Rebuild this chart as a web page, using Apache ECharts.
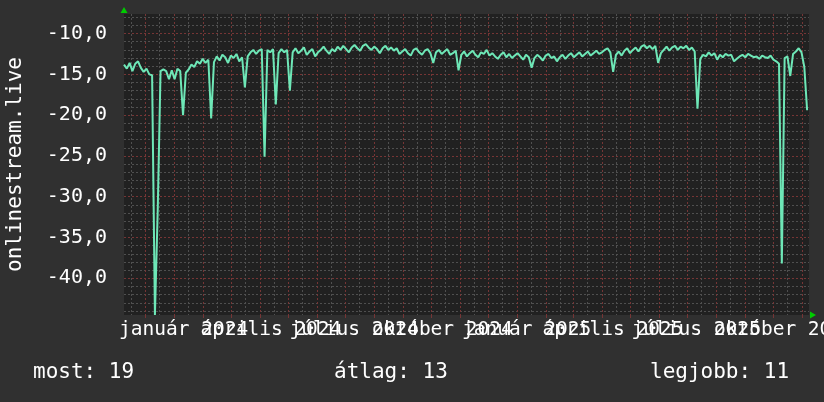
<!DOCTYPE html>
<html><head><meta charset="utf-8">
<script src="https://cdn.jsdelivr.net/npm/echarts@6/dist/echarts.min.js"></script>
<style>html,body{margin:0;padding:0;background:#303030;}#c{width:824px;height:402px;}</style>
</head><body><div id="c"></div>
<script>
// ---- data ----
const startDate = '2023-11-08';
const endDate = '2025-11-08';
const stepDays = 3;
const values = [
  -13.8, -14.3, -13.6, -14.6, -13.7, -13.4, -14.2, -14.7, -14.3, -15.0,
  -15.1, -44.5, -31.6, -14.6, -14.4, -14.6, -15.6, -14.5, -15.6, -14.3,
  -14.6, -20.0, -14.8, -14.4, -13.8, -14.1, -13.4, -13.7, -13.1, -13.6,
  -13.2, -20.4, -13.5, -12.8, -13.3, -12.6, -12.9, -13.6, -12.7, -13.0,
  -12.5, -13.4, -12.9, -16.6, -12.8, -12.3, -12.0, -12.5, -12.1, -11.9,
  -25.1, -12.0, -12.3, -11.9, -18.7, -12.4, -11.9, -12.3, -12.0, -17.0,
  -12.3, -11.8, -12.4, -12.1, -11.7, -12.6, -12.2, -11.9, -12.8, -12.3,
  -12.0, -11.6, -12.1, -12.5, -11.9, -12.2, -11.6, -12.0, -11.5, -11.9,
  -12.3, -11.7, -11.4, -11.8, -12.1, -11.5, -11.3, -11.7, -12.0, -11.6,
  -11.9, -12.4, -11.8, -11.5, -12.0, -11.7, -12.1, -11.8, -12.5, -12.2,
  -11.9, -12.4, -12.7, -12.0, -11.8, -12.3, -12.6, -12.1, -11.9, -12.4,
  -13.6, -12.3, -12.0, -12.5, -12.2, -11.9, -12.6, -12.4, -12.1, -14.5,
  -12.6, -12.2, -12.8, -12.4, -12.1, -12.6, -12.9, -12.3, -12.5, -12.0,
  -12.7, -12.4, -12.8, -13.1, -12.6, -12.3, -12.9, -12.5, -13.0, -12.7,
  -12.4, -12.8, -13.2, -12.6, -12.9, -14.2, -13.0, -12.6, -12.9, -13.3,
  -12.7, -12.5, -13.0, -12.8, -13.4, -12.9, -12.6, -13.1, -12.7, -12.4,
  -12.9, -12.6, -12.3, -12.8, -12.5, -12.2, -12.7, -12.4, -12.1, -12.5,
  -12.3, -12.0, -11.8, -12.3, -14.7, -12.6, -12.2, -12.7, -12.1, -11.8,
  -12.4, -12.0, -11.7, -12.2, -11.6, -11.4, -11.8, -11.5, -11.9, -11.5,
  -13.6, -12.4, -12.0, -11.6, -12.1, -11.7, -11.5, -12.0, -11.6, -11.8,
  -11.5, -12.0, -11.7, -12.2, -19.2, -13.1, -12.6, -12.8, -12.3, -12.7,
  -12.4, -13.2, -12.6, -12.9, -12.5, -12.7, -12.6, -13.4, -13.1, -12.8,
  -12.6, -12.9, -12.5, -12.7, -12.9, -12.8, -13.1, -12.7, -12.9, -13.0,
  -12.7, -13.2, -13.4, -13.7, -38.2, -13.0, -12.8, -15.2, -12.5, -12.2,
  -11.8, -12.3, -14.1, -19.4
];
const yMin = -44.5;
const yMax = -7.6;
const yMajorTicks = [-40, -35, -30, -25, -20, -15, -10];
const monthNames = ['január', 'február', 'március', 'április', 'május', 'június',
  'július', 'augusztus', 'szeptember', 'október', 'november', 'december'];
const labelDatesA = ['2024-01-01', '2024-07-01', '2025-01-01', '2025-07-01'];
const labelDatesB = ['2024-04-01', '2024-10-01', '2025-04-01', '2025-10-01'];
const yAxisTitle = 'onlinestream.live';
const legendTexts = ['most: 19', 'átlag: 13', 'legjobb: 11'];

// ---- layout / style ----
const legendLeft = [33, 334, 650];
const FONT = "'DejaVu Sans Mono', monospace";
const DAY = 86400000;
const toTime = s => Date.parse(s + 'T00:00:00Z');
const t0 = toTime(startDate);
const t1 = toTime(endDate);
const data = values.map((v, i) => [t0 + i * stepDays * DAY, v]);

const monthStarts = [];
const midMonths = [];
{
  const d0 = new Date(t0);
  let y = d0.getUTCFullYear(), m = d0.getUTCMonth();
  for (let k = 0; k < 40; k++) {
    const a = Date.UTC(y, m, 1), b = Date.UTC(y, m, 16);
    if (a > t0 && a < t1) monthStarts.push(a);
    if (b > t0 && b < t1) midMonths.push(b);
    m++; if (m > 11) { m = 0; y++; }
  }
}
const yMinor = [];
for (let v = Math.ceil(yMin); v <= Math.floor(yMax); v++) if (v % 5 !== 0) yMinor.push(v);

const RED = '#763535';
const GREY = '#4f4f4f';
const dateLabel = (val) => { const d = new Date(val); return monthNames[d.getUTCMonth()] + ' ' + d.getUTCFullYear(); };
const xLabelStyle = (vals, padLeft) => ({
  customValues: vals.map(toTime), hideOverlap: false, showMinLabel: true, showMaxLabel: true,
  color: '#ffffff', fontFamily: FONT, fontSize: 19.5, margin: 5, padding: [0, 0, 0, padLeft],
  formatter: dateLabel
});
const chart = echarts.init(document.getElementById('c'), null, {renderer: 'canvas'});
chart.setOption({
  animation: false,
  backgroundColor: '#303030',
  grid: {left: 124, right: 15, top: 14, bottom: 87, show: true, backgroundColor: '#212121',
    borderWidth: 0, containLabel: false, outerBoundsMode: 'none'},
  xAxis: [{
    type: 'value', min: t0, max: t1,
    axisLine: {show: false},
    axisTick: {show: true, customValues: monthStarts, length: 3, lineStyle: {color: RED}},
    splitLine: {show: true, lineStyle: {color: RED, type: [2, 2], width: 1}},
    axisLabel: xLabelStyle(labelDatesA, 18)
  }, {
    type: 'value', min: t0, max: t1, position: 'bottom',
    axisLine: {show: true, symbol: ['none', 'triangle'], symbolSize: [7, 6], symbolOffset: [0, 4], lineStyle: {color: '#00cc00', opacity: 0}},
    axisTick: {show: false, customValues: midMonths},
    axisLabel: xLabelStyle(labelDatesB, 22),
    splitLine: {show: true, lineStyle: {color: GREY, type: [2, 2], width: 1}}
  }],
  yAxis: [{
    type: 'value', min: yMin, max: yMax, position: 'left',
    name: yAxisTitle, nameLocation: 'middle', nameRotate: 90, nameGap: 98,
    nameTextStyle: {color: '#ffffff', fontFamily: FONT, fontSize: 21},
    axisLine: {show: false},
    axisTick: {show: false, customValues: yMajorTicks},
    splitLine: {show: true, lineStyle: {color: RED, type: [2, 2], width: 1}},
    axisLabel: {
      customValues: yMajorTicks, showMinLabel: true, showMaxLabel: true,
      color: '#ffffff', fontFamily: FONT, fontSize: 20, margin: 17,
      formatter: (v) => v.toFixed(1).replace('.', ',')
    }
  }, {
    type: 'value', min: yMin, max: yMax, position: 'left',
    axisLine: {show: true, symbol: ['none', 'triangle'], symbolSize: [7, 6], symbolOffset: [0, 4], lineStyle: {color: '#00cc00', opacity: 0}},
    axisTick: {show: false, customValues: yMinor},
    axisLabel: {show: false},
    splitLine: {show: true, lineStyle: {color: GREY, type: [2, 2], width: 1}}
  }],
  series: [{
    type: 'line', data: data, xAxisIndex: 0, yAxisIndex: 0,
    showSymbol: false, symbol: 'none',
    lineStyle: {color: '#6ee7b7', width: 2}, z: 5
  }],
  graphic: legendTexts.map((t, i) => ({
    type: 'text', left: legendLeft[i], top: 362,
    style: {text: t, fill: '#ffffff', font: '21px ' + FONT}
  }))
});
</script></body></html>
